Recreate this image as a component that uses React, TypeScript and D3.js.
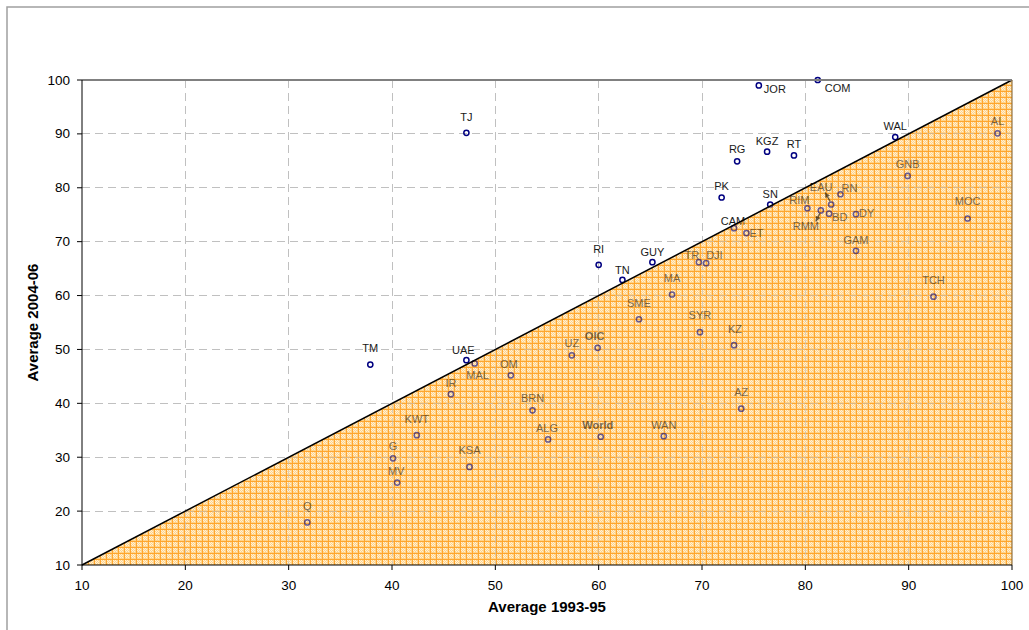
import React from "react";
import * as d3 from "d3";

// ---- data ----
const codes = ["TJ","JOR","COM","WAL","AL","RG","KGZ","RT","GNB","PK","SN","EAU","RN","RIM","RMM","BD","DY","MOC","CAM","ET","GAM","TCH","TR","DJI","KZ","AZ","RI","GUY","TN","MA","SME","SYR","OIC","UZ","UAE","MAL","OM","IR","BRN","KWT","ALG","World","WAN","KSA","TM","Q","G","MV"];
const avg1993_95 = [47.2,75.5,81.2,88.7,98.6,73.4,76.3,78.9,89.9,71.9,76.6,82.5,83.4,80.2,81.5,82.3,84.9,95.7,73.1,74.3,84.9,92.4,69.7,70.4,73.1,73.8,60.0,65.2,62.3,67.1,63.9,69.8,59.9,57.4,47.2,48.0,51.5,45.7,53.6,42.4,55.1,60.2,66.3,47.5,37.9,31.8,40.1,40.5];
const avg2004_06 = [90.2,99.0,100,89.4,90.1,84.9,86.7,86.0,82.2,78.2,76.9,76.9,78.8,76.2,75.8,75.2,75.1,74.3,72.5,71.6,68.3,59.8,66.2,66.0,50.8,39.0,65.7,66.2,62.9,60.2,55.6,53.2,50.3,48.9,48.0,47.4,45.2,41.7,38.7,34.1,33.3,33.8,33.9,28.2,47.2,17.9,29.8,25.3];
const boldCodes = ["OIC","World"];
const xTicks = [10,20,30,40,50,60,70,80,90,100];
const yTicks = [10,20,30,40,50,60,70,80,90,100];
const xTitle = "Average 1993-95";
const yTitle = "Average 2004-06";
const diagonal = [10, 100];

// ---- label placement (anchor, dx, dy in px relative to point) ----
const labelPlacement: Record<string, [string, number, number]> = {
  TJ:["middle",0,-12], JOR:["start",5,8], COM:["start",7,12], WAL:["middle",0,-7], AL:["middle",0,-8],
  RG:["middle",0,-8], KGZ:["middle",0,-7], RT:["middle",0,-7], GNB:["middle",0,-8], PK:["middle",0,-7],
  SN:["middle",0,-6.5], EAU:["middle",-10,-13], RN:["middle",9,-2], RIM:["middle",-8,-4], RMM:["middle",-15,20],
  BD:["start",3,7], DY:["start",3,3], MOC:["middle",0,-13], CAM:["middle",-1,-3], ET:["start",3,4],
  GAM:["middle",0,-7], TCH:["middle",0,-13], TR:["middle",-7,-3], DJI:["start",0,-4], KZ:["middle",1,-12.6],
  AZ:["middle",0,-12.7], RI:["middle",0,-12], GUY:["middle",0,-6.6], TN:["middle",0,-6.4], MA:["middle",0,-12.3],
  SME:["middle",0,-12.7], SYR:["middle",0,-13], OIC:["middle",-3,-7.7], UZ:["middle",0,-8], UAE:["middle",-3,-6.3],
  MAL:["middle",3,15.3], OM:["middle",-2,-7.3], IR:["middle",0,-7.6], BRN:["middle",0,-8.6], KWT:["middle",0,-12.3],
  ALG:["middle",-1,-7.4], World:["middle",-3,-7.7], WAN:["middle",0,-7.6], KSA:["middle",0,-13.4], TM:["middle",0,-13],
  Q:["middle",0,-12.3], G:["middle",0,-8], MV:["middle",-1,-7.3],
};
// arrows: [startDx, startDy, endDx, endDy]
const arrows: Record<string, [number, number, number, number]> = {
  EAU: [-1, -3, -6, -12],
  RMM: [-1, 3, -5, 11],
};

const W = 1029, H = 630;
const PX0 = 82, PX1 = 1012, PY0 = 80, PY1 = 565;
const FONT = "'Liberation Sans', Arial, Helvetica, sans-serif";

export default function App() {
  const x = d3.scaleLinear().domain([10, 100]).range([PX0, PX1]);
  const y = d3.scaleLinear().domain([10, 100]).range([PY1, PY0]);
  const pts = codes.map((c, i) => ({ c, vx: avg1993_95[i], vy: avg2004_06[i] }));
  const tri = d3.line<[number, number]>()([
    [x(diagonal[0]), y(diagonal[0])],
    [x(diagonal[1]), y(diagonal[1])],
    [x(diagonal[1]), y(diagonal[0])],
  ]) + "Z";

  const grid = (
    <g stroke="#c0c0c0" strokeWidth={1} strokeDasharray="8,5" shapeRendering="crispEdges">
      {xTicks.slice(1, -1).map((t) => (
        <line key={"gx" + t} x1={x(t)} x2={x(t)} y1={PY0} y2={PY1} />
      ))}
      {yTicks.slice(1, -1).map((t) => (
        <line key={"gy" + t} x1={PX0} x2={PX1} y1={y(t)} y2={y(t)} />
      ))}
    </g>
  );

  return (
    <svg width={W} height={H} style={{ position: "absolute", left: 0, top: 0, background: "#fff" }} fontFamily={FONT}>
      <defs>
        <pattern id="hatch" width={6} height={6} patternUnits="userSpaceOnUse" x={PX0} y={PY1}>
          <rect width={6} height={6} fill="#FFD38A" />
          <rect x={1} y={1} width={1} height={1} fill="#FFF0D6" />
          <rect x={3} y={1} width={1} height={1} fill="#FFF0D6" />
          <rect x={2} y={2} width={1} height={1} fill="#FFF0D6" />
          <rect x={4} y={2} width={1} height={1} fill="#FFF0D6" />
          <rect x={1} y={3} width={1} height={1} fill="#FFF0D6" />
          <rect x={3} y={3} width={1} height={1} fill="#FFF0D6" />
          <rect x={2} y={4} width={1} height={1} fill="#FFF0D6" />
          <rect x={4} y={4} width={1} height={1} fill="#FFF0D6" />
          <rect x={0} y={0} width={6} height={1} fill="#FFA62E" />
          <rect x={0} y={0} width={1} height={6} fill="#FFA62E" />
        </pattern>
      </defs>
      <rect x={7} y={7} width={1040} height={650} fill="#fff" stroke="#a0a0a0" strokeWidth={1.5} />
      {grid}
      <path d={tri} fill="url(#hatch)" shapeRendering="crispEdges" />
      {grid}
      {/* points & labels */}
      <g>
        {pts.map((p) => {
          const px = x(p.vx), py = y(p.vy);
          const pl = labelPlacement[p.c] || ["middle", 0, -8];
          const ar = arrows[p.c];
          return (
            <g key={p.c}>
              <circle cx={px} cy={py} r={2.6} fill="none" stroke="#000080" strokeWidth={1.5} />
              <text x={px + pl[1]} y={py + pl[2]} textAnchor={pl[0] as any} fontSize={11}
                fontWeight={boldCodes.includes(p.c) ? "bold" : "normal"} fill="#1a1a1a">{p.c}</text>
              {ar && (
                <g stroke="#000" strokeWidth={1.3}>
                  <line x1={px + ar[0]} y1={py + ar[1]} x2={px + ar[2]} y2={py + ar[3]} />
                  {(() => {
                    const ex = px + ar[2], ey = py + ar[3];
                    const ang = Math.atan2(ar[3] - ar[1], ar[2] - ar[0]);
                    const L = 5, Wd = 2.6;
                    const bx = ex - L * Math.cos(ang), by = ey - L * Math.sin(ang);
                    const p1 = [bx + Wd * Math.sin(ang), by - Wd * Math.cos(ang)];
                    const p2 = [bx - Wd * Math.sin(ang), by + Wd * Math.cos(ang)];
                    return <path d={`M${ex},${ey}L${p1[0]},${p1[1]}L${p2[0]},${p2[1]}Z`} fill="#000" stroke="none" />;
                  })()}
                </g>
              )}
            </g>
          );
        })}
      </g>
      {/* translucent overlay tinting marks below diagonal */}
      <path d={tri} fill="url(#hatch)" opacity={0.4} shapeRendering="crispEdges" />
      {/* diagonal */}
      <line x1={x(diagonal[0])} y1={y(diagonal[0])} x2={x(diagonal[1])} y2={y(diagonal[1])} stroke="#000" strokeWidth={1.5} />
      {/* plot border */}
      <line x1={PX0} x2={PX1} y1={PY0} y2={PY0} stroke="#808080" strokeWidth={2} />
      <line x1={PX1} x2={PX1} y1={PY0} y2={PY1} stroke="#7a5a2a" strokeWidth={1} />
      {/* axes */}
      <line x1={PX0} x2={PX0} y1={PY0} y2={PY1} stroke="#000" strokeWidth={1} />
      <line x1={PX0} x2={PX1} y1={PY1} y2={PY1} stroke="#000" strokeWidth={1} />
      <g fontSize={13.5} fill="#000">
        {yTicks.map((t) => (
          <g key={"yt" + t}>
            <line x1={PX0 - 5} x2={PX0} y1={y(t)} y2={y(t)} stroke="#000" />
            <text x={PX0 - 12} y={y(t) + 4.5} textAnchor="end">{t}</text>
          </g>
        ))}
        {xTicks.map((t) => (
          <g key={"xt" + t}>
            <line x1={x(t)} x2={x(t)} y1={PY1} y2={PY1 + 5} stroke="#000" />
            <text x={x(t)} y={PY1 + 25} textAnchor="middle">{t}</text>
          </g>
        ))}
      </g>
      <text x={(PX0 + PX1) / 2} y={612} textAnchor="middle" fontSize={15} fontWeight="bold">{xTitle}</text>
      <text transform={`translate(38,${(PY0 + PY1) / 2}) rotate(-90)`} textAnchor="middle" fontSize={15} fontWeight="bold">{yTitle}</text>
    </svg>
  );
}
